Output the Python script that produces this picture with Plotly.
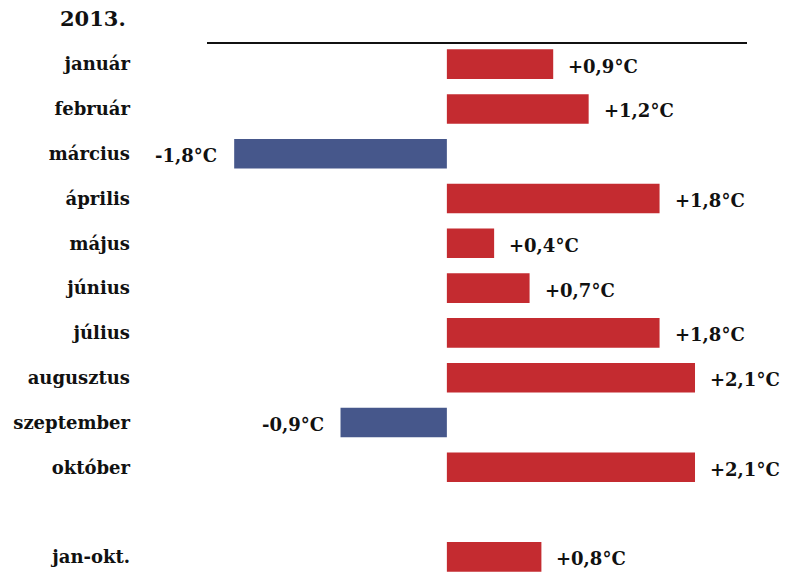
import plotly.graph_objects as go

# Monthly temperature anomalies, 2013 (°C)
months = ["január", "február", "március", "április", "május", "június",
          "július", "augusztus", "szeptember", "október", " ", "jan-okt."]
anomaly = [0.9, 1.2, -1.8, 1.8, 0.4, 0.7, 1.8, 2.1, -0.9, 2.1, None, 0.8]
labels = ["+0,9°C", "+1,2°C", "-1,8°C", "+1,8°C", "+0,4°C", "+0,7°C",
          "+1,8°C", "+2,1°C", "-0,9°C", "+2,1°C", "", "+0,8°C"]
title = "2013."

RED = "#C42B30"
BLUE = "#46578B"
FONT = "Palatino Linotype, Book Antiqua, DejaVu Serif, serif"

cats = [m for m, v in zip(months, anomaly) if v is not None]
vals = [v for v in anomaly if v is not None]
texts = [t for t, v in zip(labels, anomaly) if v is not None]
colors = [RED if v >= 0 else BLUE for v in vals]

fig = go.Figure()
fig.add_trace(go.Bar(
    x=vals, y=cats, orientation="h",
    marker=dict(color=colors, line=dict(width=0)),
    width=0.66, hoverinfo="skip",
))

for c, v, t in zip(cats, vals, texts):
    fig.add_annotation(
        x=v, y=c, xref="x", yref="y", text=t, showarrow=False,
        xanchor="left" if v >= 0 else "right",
        xshift=13 if v >= 0 else -15, yshift=-2,
        font=dict(family=FONT, size=18, color="#111111"),
    )

fig.add_annotation(
    x=-0.146, y=1.0, xref="paper", yref="paper", text=f"<b>{title}</b>",
    showarrow=False, xanchor="right", yanchor="bottom", yshift=11,
    font=dict(family=FONT, size=21, color="#111111"),
)

fig.update_layout(
    width=785, height=577,
    margin=dict(l=207, r=38, t=44, b=0),
    paper_bgcolor="white", plot_bgcolor="white",
    showlegend=False,
    font=dict(family=FONT, size=18, color="#111111"),
    xaxis=dict(
        range=[-2.03, 2.54], side="top", showline=True, linecolor="#111111",
        linewidth=2, showticklabels=False, ticks="", showgrid=False,
        zeroline=False, fixedrange=True,
    ),
    yaxis=dict(
        type="category", categoryorder="array", categoryarray=months,
        showline=False, showgrid=False, zeroline=False, ticks="",
        ticklabelstandoff=76,
        tickfont=dict(family=FONT, size=18, color="#111111", weight="bold"),
    ),
)
fig.update_yaxes(autorange=False, range=[11.45, -0.45])
fig.update_annotations(font_weight="bold")

fig.write_html("out.html")
